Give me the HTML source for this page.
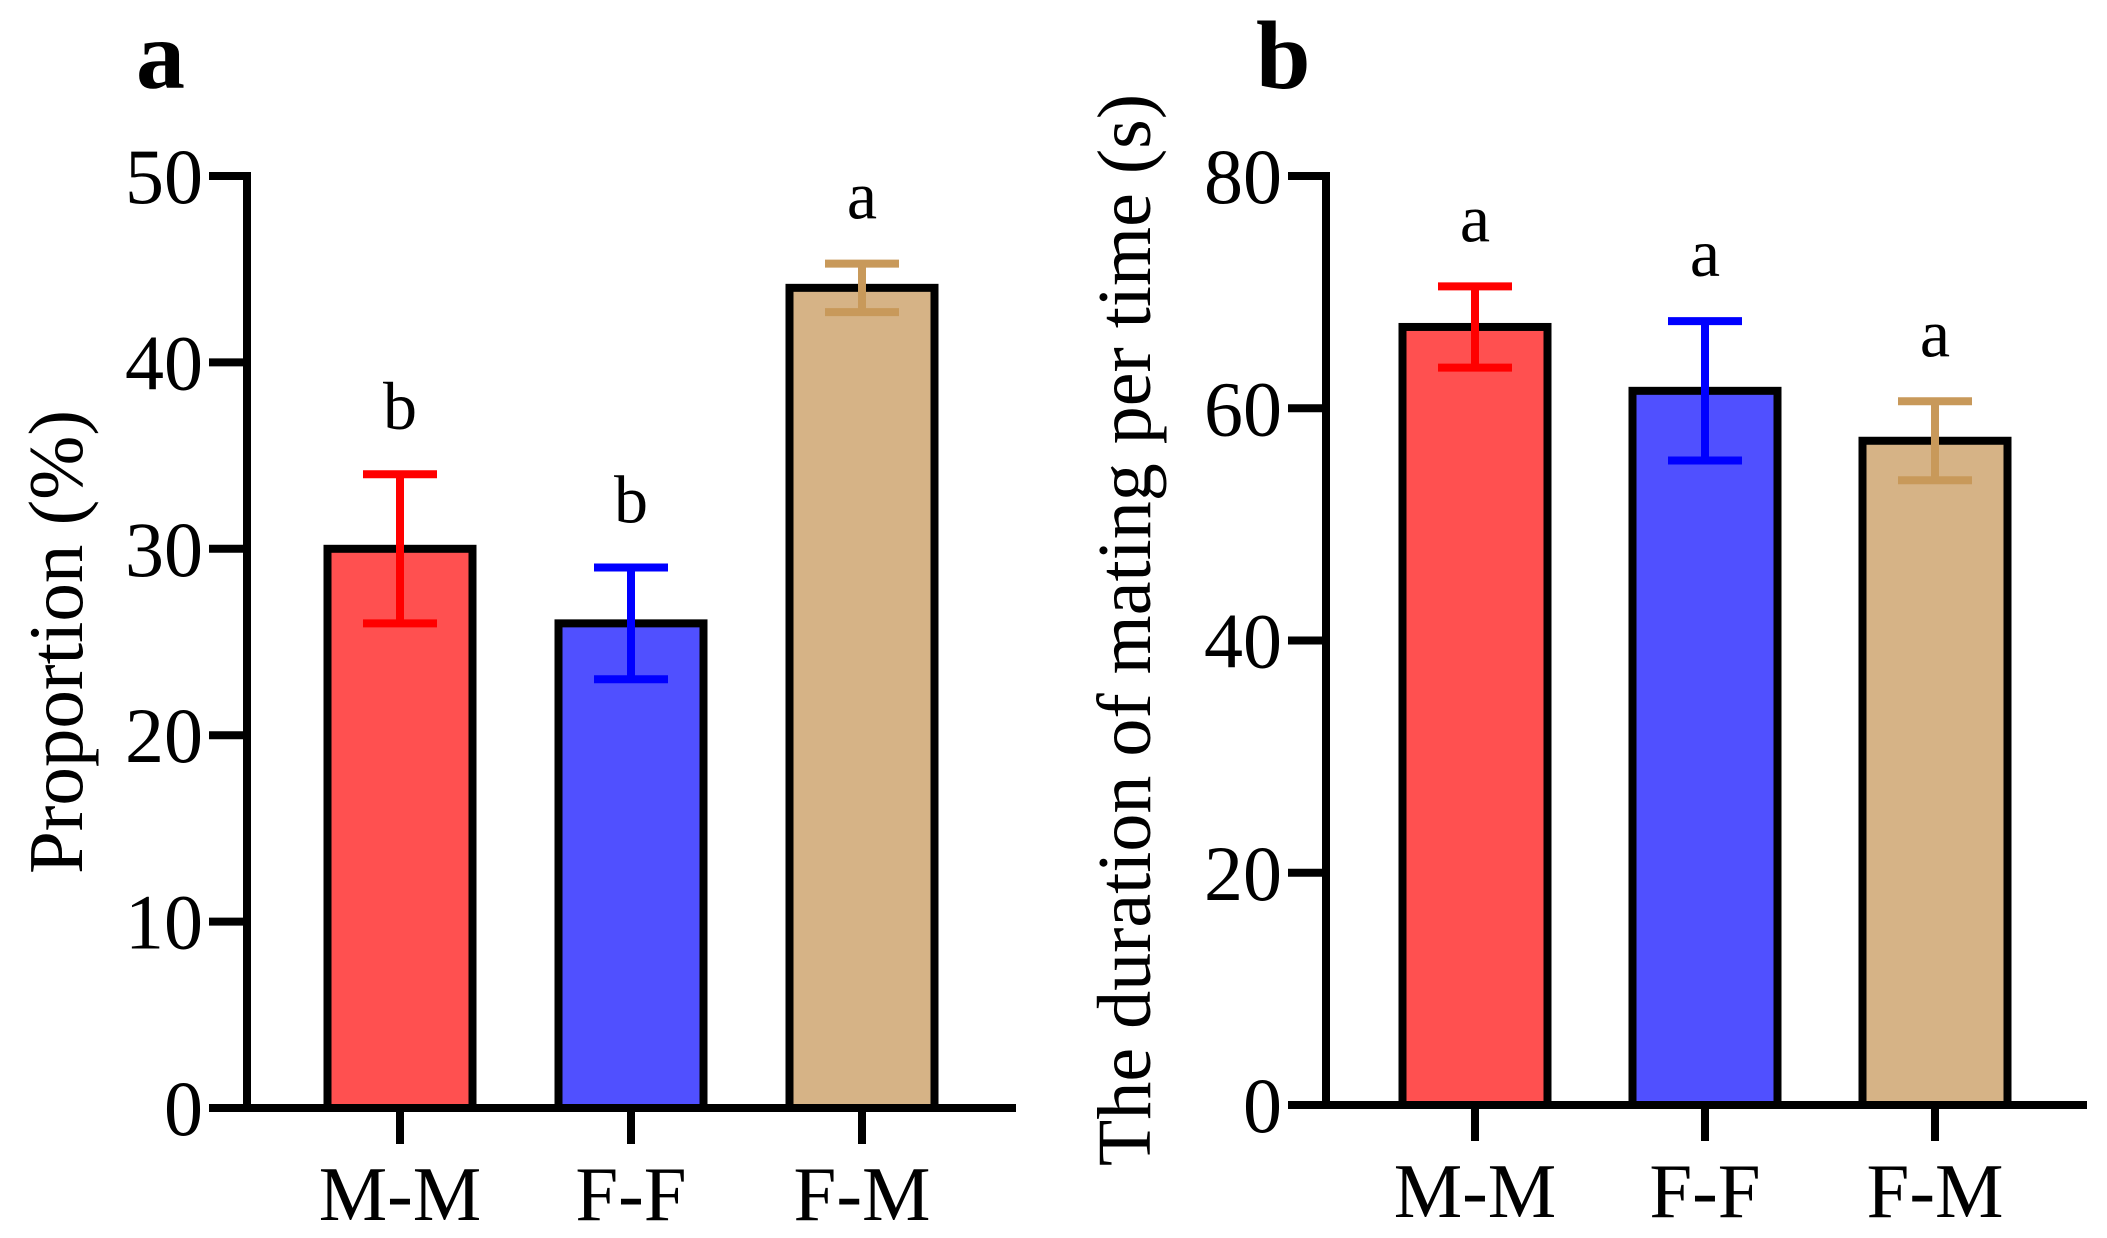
<!DOCTYPE html>
<html><head><meta charset="utf-8"><style>
html,body{margin:0;padding:0;background:#fff;}
svg{display:block;font-family:"Liberation Serif",serif;}
</style></head><body>
<svg id="chart" width="2107" height="1238" viewBox="0 0 2107 1238" xmlns="http://www.w3.org/2000/svg">
<text x="136" y="88" font-size="98" font-weight="bold">a</text>
<text x="1256" y="88" font-size="98" font-weight="bold">b</text>
<text transform="translate(82,642) rotate(-90)" text-anchor="middle" font-size="77">Proportion (%)</text>
<text transform="translate(1150,630) rotate(-90)" text-anchor="middle" font-size="76">The duration of mating per time (s)</text>
</svg>
<script>
const categories = ["M-M","F-F","F-M"];
const aValues = [30, 26, 44];
const aErrors = [4, 3, 1.3];
const aLetters = ["b","b","a"];
const aTicks = [0,10,20,30,40,50];
const bValues = [67, 61.5, 57.2];
const bErrors = [3.5, 6, 3.4];
const bLetters = ["a","a","a"];
const bTicks = [0,20,40,60,80];
const fills = ["#ff5050","#5050ff","#d6b386"];
const errColors = ["#ff0000","#0000ff","#c8995a"];

const svg = document.getElementById('chart');
const NS = "http://www.w3.org/2000/svg";
function mk(tag, attrs){const e=document.createElementNS(NS,tag);for(const k in attrs)e.setAttribute(k,attrs[k]);svg.appendChild(e);return e;}

function panel(p){
  const y = v => p.base - (v - 0) / p.max * (p.base - p.top);
  const x = i => p.c0 + i * p.step;
  const bw = 145;
  p.values.forEach((v,i)=>{
    const r = mk('rect',{x:x(i)-bw/2,y:y(v),width:bw,height:p.base-y(v),fill:fills[i],stroke:'#000','stroke-width':8});
    
    
    const hi=y(v+p.errors[i]), lo=y(v-p.errors[i]);
    const g = document.createElementNS(NS,'path');
    g.setAttribute('d',`M${x(i)} ${hi}V${lo}M${x(i)-37} ${hi}H${x(i)+37}M${x(i)-37} ${lo}H${x(i)+37}`);
    g.setAttribute('stroke',errColors[i]);g.setAttribute('stroke-width',8);g.setAttribute('fill','none');
    svg.appendChild(g);
    
    
    const t = mk('text',{x:x(i),y:hi-45,'text-anchor':'middle','font-size':68});
    t.textContent = p.letters[i];
    
    
  });
  const ax = mk('path',{d:`M${p.ax} ${p.top-4}V${p.base}H${p.right}`,stroke:'#000','stroke-width':8,fill:'none'});
  
  
  p.ticks.forEach(t=>{
    const l = mk('line',{x1:p.ax-38,x2:p.ax,y1:y(t),y2:y(t),stroke:'#000','stroke-width':8});
    
    
    const tx = mk('text',{x:p.ax-44,y:y(t)+27,'text-anchor':'end','font-size':78});
    tx.textContent = t;
    
    
  });
  categories.forEach((c,i)=>{
    const l = mk('line',{x1:x(i),x2:x(i),y1:p.base,y2:p.base+36,stroke:'#000','stroke-width':8});
    
    
    const tx = mk('text',{x:x(i),y:p.base+112,'text-anchor':'middle','font-size':77});
    tx.textContent = c;
    
    
  });
}
panel({id:'a',values:aValues,errors:aErrors,letters:aLetters,ticks:aTicks,max:50,base:1108,top:176,ax:247,right:1016,c0:400,step:231});
panel({id:'b',values:bValues,errors:bErrors,letters:bLetters,ticks:bTicks,max:80,base:1105,top:176,ax:1326,right:2087,c0:1475,step:230});
</script>
</body></html>
